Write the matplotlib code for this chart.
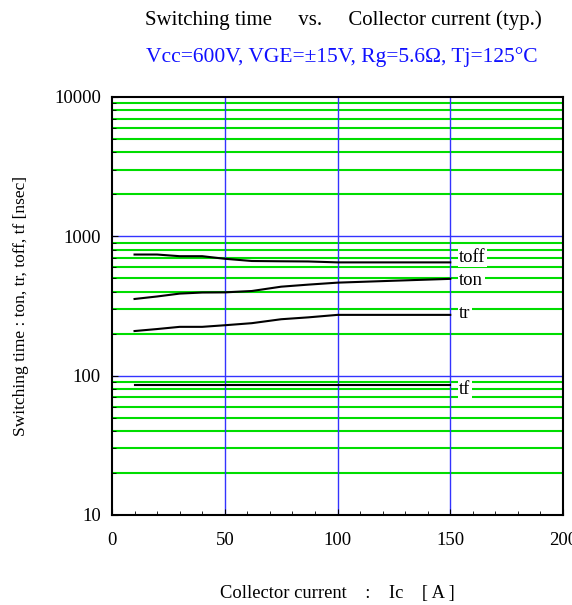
import matplotlib.pyplot as plt
import numpy as np

plt.rcParams['font.family'] = ['Liberation Serif', 'DejaVu Serif']

ic = [10, 20, 30, 40, 50, 62, 75, 87, 100, 125, 150]
toff = [740, 740, 720, 720, 690, 665, 662, 660, 650, 650, 650]
ton = [355, 370, 388, 395, 396, 405, 435, 450, 465, 480, 495]
tr = [209, 216, 224, 224, 230, 238, 254, 262, 273, 273, 273]
tf = [85, 85, 85, 85, 85, 85, 85, 85, 85, 85, 85]

labels = ['toff', 'ton', 'tr', 'tf']
series = [toff, ton, tr, tf]
label_shift = [1.09, 0.98, 1.03, 0.93]  # nudge labels off the curve ends

fig = plt.figure(figsize=(5.72, 6.05), dpi=100)
ax = fig.add_axes([0.1958, 0.1488, 0.7885, 0.6909])

ax.set_yscale('log')
ax.set_xlim(0, 200)
ax.set_ylim(10, 10000)

# grid: green minor, blue major
for dec in [10, 100, 1000]:
    for m in range(2, 10):
        ax.axhline(dec * m, color='#00dd00', lw=1.5, zorder=1)
for y in [100, 1000]:
    ax.axhline(y, color='#3333ff', lw=1.0, zorder=1.5)
for x in [50, 100, 150]:
    ax.axvline(x, color='#3333ff', lw=1.0, zorder=1.5)

for name, vals, k in zip(labels, series, label_shift):
    ax.plot(ic, vals, color='black', lw=1.5, zorder=3)
    ax.text(154, vals[-1] * k, name, fontsize=13.5, va='center', ha='left',
            bbox=dict(facecolor='white', edgecolor='none', pad=1), zorder=4)

ax.set_xticks([0, 50, 100, 150, 200])
ax.set_xticks(np.arange(0, 201, 10), minor=True)
ax.set_yticks([10, 100, 1000, 10000])
ax.set_yticklabels(['10', '100', '1000', '10000'])
ax.tick_params(which='both', direction='in', labelsize=13.5, top=False, right=False)
ax.tick_params(axis='y', which='major', length=4, pad=8)
ax.tick_params(axis='x', which='major', length=4, pad=12)
ax.tick_params(which='minor', length=3)
ax.tick_params(axis='y', which='minor', labelleft=False)
for s in ax.spines.values():
    s.set_linewidth(1.5)

ax.set_ylabel('Switching time : ton, tr, toff, tf [nsec]', fontsize=12.5, labelpad=18)
ax.set_xlabel('Collector current    :    Ic    [ A ]', fontsize=13.3, labelpad=26)

fig.text(0.6, 0.967, 'Switching time     vs.     Collector current (typ.)',
         ha='center', va='center', fontsize=15)
fig.text(0.597, 0.905, 'Vcc=600V, VGE=\u00b115V, Rg=5.6\u03a9, Tj=125\u00b0C',
         ha='center', va='center', fontsize=15.5, color='#1010ff')

fig.savefig('out.png', dpi=100)
